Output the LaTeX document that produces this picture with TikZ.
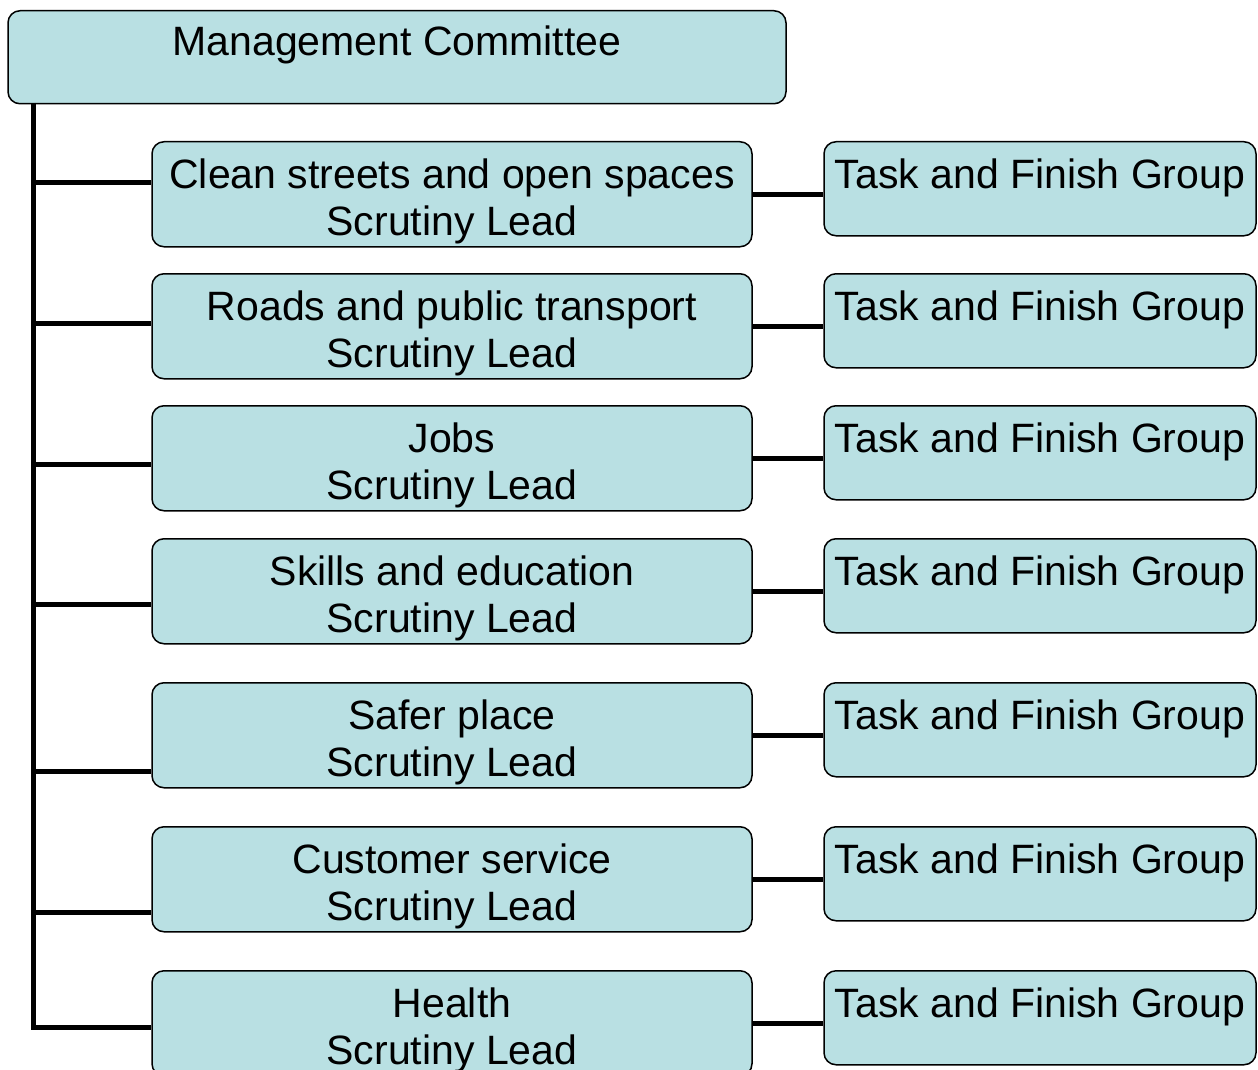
\documentclass[tikz,border=0pt]{standalone}
\usepackage{fontspec}
\setmainfont{Liberation Sans}
\usepackage{tikz}
\definecolor{boxfill}{HTML}{B9E0E3}
\newcommand{\lift}{\rule{0pt}{44pt}}
\tikzset{
	box/.style={draw=black, line width=1.5pt, fill=boxfill, rounded corners=12pt, align=center, inner sep=4pt},
	lead/.style={box, anchor=north, minimum width=600pt, minimum height=105pt, inner ysep=2pt},
	task/.style={box, anchor=north, minimum width=432pt, text height=43pt, text depth=43pt},
	link/.style={line width=5pt}
}

\begin{document}
\begin{tikzpicture}[x=1pt, y=-1pt, font=\fontsize{41}{47}\selectfont]
			%%%%% START %%%%%
			
			\useasboundingbox (0, 0) rectangle (1258, 1070);
			
			\node[box, anchor=north, minimum width=778pt, text height=41pt, text depth=44pt] (mgmt) at (397, 10) {Management Committee};
			
			\node[lead] (lead1) at (452, 141) {\lift Clean streets and open spaces\\Scrutiny Lead};
			\node[lead] (lead2) at (452, 273) {\lift Roads and public transport\\Scrutiny Lead};
			\node[lead] (lead3) at (452, 405) {\lift Jobs\\Scrutiny Lead};
			\node[lead] (lead4) at (452, 538) {\lift Skills and education\\Scrutiny Lead};
			\node[lead] (lead5) at (452, 682) {\lift Safer place\\Scrutiny Lead};
			\node[lead] (lead6) at (452, 826) {\lift Customer service\\Scrutiny Lead};
			\node[lead] (lead7) at (452, 970) {\lift Health\\Scrutiny Lead};
			
			\node[task] (task1) at (1040, 141) {Task and Finish Group};
			\node[task] (task2) at (1040, 273) {Task and Finish Group};
			\node[task] (task3) at (1040, 405) {Task and Finish Group};
			\node[task] (task4) at (1040, 538) {Task and Finish Group};
			\node[task] (task5) at (1040, 682) {Task and Finish Group};
			\node[task] (task6) at (1040, 826) {Task and Finish Group};
			\node[task] (task7) at (1040, 970) {Task and Finish Group};
			
			% bus down the left side
			\coordinate (bustop) at (33, 103);
			\coordinate (bus1) at (33, 182);
			\coordinate (bus2) at (33, 323);
			\coordinate (bus3) at (33, 464);
			\coordinate (bus4) at (33, 604);
			\coordinate (bus5) at (33, 771);
			\coordinate (bus6) at (33, 912);
			\coordinate (bus7) at (33, 1027);
			
			\draw[link] (bustop) -- (bus7) -- (bus7 -| lead7.west);
			\draw[link] (bus1) -- (bus1 -| lead1.west);
			\draw[link] (bus2) -- (bus2 -| lead2.west);
			\draw[link] (bus3) -- (bus3 -| lead3.west);
			\draw[link] (bus4) -- (bus4 -| lead4.west);
			\draw[link] (bus5) -- (bus5 -| lead5.west);
			\draw[link] (bus6) -- (bus6 -| lead6.west);
			
			\draw[link] (lead1.east) -- (lead1.east -| task1.west);
			\draw[link] (lead2.east) -- (lead2.east -| task2.west);
			\draw[link] (lead3.east) -- (lead3.east -| task3.west);
			\draw[link] (lead4.east) -- (lead4.east -| task4.west);
			\draw[link] (lead5.east) -- (lead5.east -| task5.west);
			\draw[link] (lead6.east) -- (lead6.east -| task6.west);
			\draw[link] (lead7.east) -- (lead7.east -| task7.west);
			
			%%%%% END %%%%%
\end{tikzpicture}
\end{document}
